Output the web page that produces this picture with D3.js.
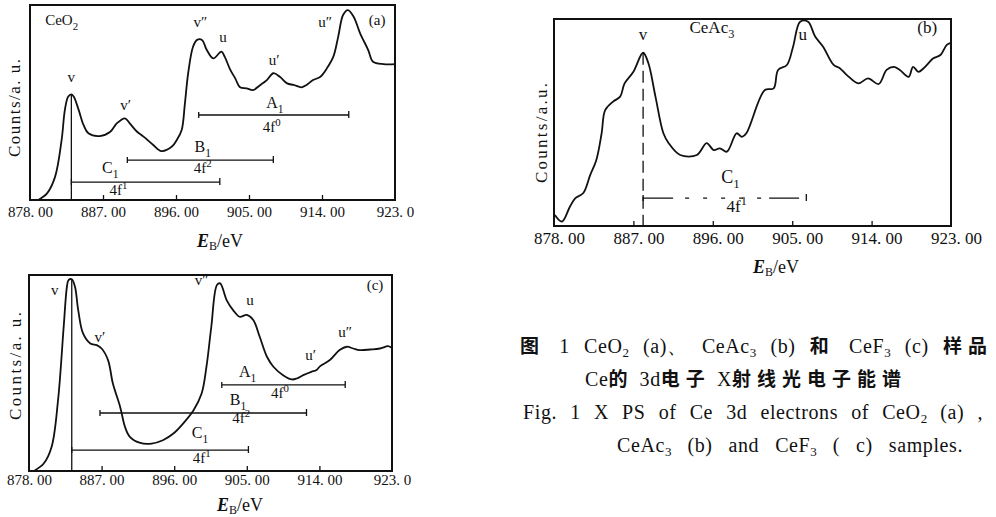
<!DOCTYPE html>
<meta charset="utf-8">
<style>
body { margin: 0; background: #fff; }
svg { display: block; }
text { font-family: "Liberation Serif", "DejaVu Serif", serif; fill: #111; }
.cjk { font-family: "Noto Sans CJK SC", sans-serif; font-weight: bold; }
.curve { fill: none; stroke: #111; stroke-width: 1.8; stroke-linejoin: round; }
.box { fill: none; stroke: #111; stroke-width: 2; }
.bracket { fill: none; stroke: #111; stroke-width: 1.3; }
.axis text { font-family: "Liberation Serif", serif; fill: #111; }
.axis line { stroke: #111; stroke-width: 1.3; }
</style>
<svg width="996" height="517"></svg>
<script src="https://d3js.org/d3.v7.min.js"></script>
<script>

// x axis (binding energy, eV)
var tickValues = [878, 887, 896, 905, 914, 923];
var tickLabelsA = ["878. 00", "887. 00", "896. 00", "905. 00", "914. 00", "923. 0"];
var tickLabelsB = ["878. 00", "887. 00", "896. 00", "905. 00", "914. 00", "923. 00"];
var tickLabelsC = ["878. 00", "887. 00", "896. 00", "905. 00", "914. 00", "923. 0"];

// (a) CeO2 spectrum, counts in arbitrary units (0-100)
var energyA = [879.0, 880.1, 881.1, 881.9, 882.3, 882.7, 883.1, 883.4, 884.0, 884.6, 885.2, 886.6, 887.9, 888.7, 889.7, 890.3, 891.2, 892.0, 893.2, 894.2, 895.5, 896.1, 896.7, 897.1, 897.5, 898.1, 898.6, 899.2, 899.8, 900.6, 901.6, 902.0, 902.7, 903.3, 903.9, 904.7, 905.5, 906.4, 907.2, 908.0, 908.8, 909.7, 910.5, 911.5, 912.1, 912.9, 913.8, 914.6, 915.4, 916.0, 916.6, 917.2, 917.9, 918.7, 919.7, 920.3, 921.6, 923.0];
var countsA = [0, 3.4, 12.0, 30.8, 46.2, 53.0, 54.2, 53.0, 46.2, 38.5, 34.2, 32.8, 35.0, 39.3, 41.9, 39.3, 35.0, 32.5, 28.2, 25.1, 27.4, 30.8, 35.9, 49.6, 65.0, 78.6, 82.1, 82.1, 76.9, 72.6, 76.1, 73.5, 66.7, 62.4, 57.8, 57.3, 56.4, 59.0, 61.5, 65.0, 63.2, 59.8, 59.0, 57.8, 59.0, 61.5, 63.2, 67.5, 73.5, 83.8, 94.9, 97.4, 94.0, 85.5, 76.9, 70.9, 69.7, 69.7];

// (b) CeAc3 spectrum
var energyB = [878.1, 878.9, 879.8, 880.4, 881.3, 882.1, 882.8, 883.4, 883.8, 884.7, 885.5, 886.0, 887.0, 888.1, 888.7, 889.5, 890.4, 891.0, 892.3, 894.2, 895.3, 896.1, 896.8, 897.6, 898.7, 899.3, 899.8, 901.9, 902.9, 903.4, 904.4, 905.1, 905.9, 906.8, 907.6, 908.5, 909.7, 910.4, 911.2, 912.5, 913.6, 914.8, 915.7, 916.5, 917.2, 918.2, 918.7, 919.3, 919.9, 921.0, 921.8, 922.5, 922.9];
var countsB = [5.3, 2.1, 9.3, 13.4, 15.8, 24.6, 31.9, 44.8, 56.0, 60.1, 62.5, 68.9, 74.5, 83.7, 78.6, 62.5, 44.8, 40.0, 34.3, 34.3, 40.0, 36.7, 37.5, 35.9, 44.8, 43.1, 44.8, 65.7, 66.5, 75.4, 77.8, 86.6, 98.7, 98.7, 91.5, 86.6, 77.8, 76.2, 72.9, 68.9, 71.3, 68.6, 75.4, 76.9, 75.4, 72.1, 76.9, 74.5, 76.2, 81.0, 82.6, 87.4, 88.3];

// (c) CeF3 spectrum
var energyC = [878.7, 879.8, 880.8, 881.6, 882.3, 882.7, 882.9, 883.3, 883.7, 884.1, 884.7, 885.6, 886.4, 887.0, 887.8, 888.4, 889.3, 889.9, 890.5, 891.8, 893.2, 894.6, 895.9, 897.1, 898.4, 899.4, 900.0, 900.6, 901.3, 901.7, 902.5, 903.3, 904.1, 905.0, 905.8, 906.6, 907.5, 908.3, 909.5, 910.6, 911.2, 912.0, 913.0, 913.6, 914.1, 915.3, 916.5, 917.4, 918.2, 919.0, 920.3, 921.5, 922.5, 922.9];
var countsC = [0.3, 3.7, 12.3, 36.1, 73.6, 94.0, 97.4, 97.8, 94.0, 82.1, 70.2, 65.1, 64.2, 62.5, 56.6, 44.6, 32.7, 22.5, 17.4, 14.3, 14.0, 15.7, 19.1, 24.2, 31.0, 39.5, 53.2, 73.6, 94.9, 95.7, 87.2, 82.1, 78.7, 79.6, 77.0, 68.5, 58.3, 53.2, 48.9, 46.7, 47.2, 48.9, 50.6, 51.4, 53.5, 56.6, 61.7, 63.4, 62.5, 61.7, 62.0, 62.5, 63.7, 63.0];

// peak labels (name, energy, counts where the label sits)
var peakNamesA = ["v", "v′", "v″", "u", "u′", "u″", "CeO_2", "(a)"];
var peakEnergyA = [883.1, 889.8, 899.0, 901.8, 908.1, 914.4, 881.9, 920.8];
var peakCountA = [60.5, 46.2, 88.7, 81.0, 69.2, 88.7, 89.7, 89.7];
var peakNamesB = ["v", "u", "CeAc_3", "(b)"];
var peakEnergyB = [888.1, 906.2, 895.9, 920.3];
var peakCountB = [89.9, 89.9, 93.2, 93.2];
var peakNamesC = ["v", "v′", "v″", "u", "u′", "u″", "(c)"];
var peakEnergyC = [881.2, 886.8, 899.4, 905.4, 912.9, 917.2, 920.9];
var peakCountC = [89.8, 65.8, 94.9, 84.7, 56.6, 68.4, 92.3];

// v marker line (energy, top counts)
var vLineA = [883.1, 54.2], vLineB = [888.1, 83.7], vLineC = [883.3, 97.8];

// multiplet brackets: name, 4f configuration, start/end energy, level
var bracketNames = ["A_1", "B_1", "C_1"];
var bracketConfigs = ["4f^0", "4f^2", "4f^1"];
var bracketStartA = [898.8, 890.0, 883.1], bracketEndA = [917.3, 908.0, 901.4], bracketLevelA = [43.6, 20.5, 9.2];
var nameEnergyA = [908.2, 899.3, 887.9], nameCountA = [47.2, 24.6, 13.8];
var cfgEnergyA = [907.8, 899.3, 888.9], cfgCountA = [34.9, 13.8, 2.6];
var bracketStartB = [888.1], bracketEndB = [906.6], bracketLevelB = [13.5];
var nameEnergyB = [898.0], nameCountB = [20.8], cfgEnergyB = [898.7], cfgCountB = [6.8];
var bracketStartC = [901.9, 886.8, 883.3], bracketEndC = [917.2, 912.4, 905.2], bracketLevelC = [43.9, 29.6, 10.7];
var nameEnergyC = [905.1, 903.9, 899.2], nameCountC = [48.0, 33.7, 16.8];
var cfgEnergyC = [909.1, 904.3, 899.4], cfgCountC = [37.2, 24.5, 4.1];

// caption lines
var captionZh1 = [["cjk", "图"], ["lat", " 1 CeO"], ["sub", "2"], ["lat", " (a)、 CeAc"], ["sub", "3"], ["lat", " (b) "], ["cjk", "和"], ["lat", " CeF"], ["sub", "3"], ["lat", " (c) "], ["cjk", "样品"]];
var captionZh2 = [["lat", "Ce"], ["cjk", "的"], ["lat", " 3d"], ["cjk", "电子"], ["lat", " X"], ["cjk", "射线光电子能谱"]];
var captionEn1 = [["lat", "Fig. 1 X PS of Ce 3d electrons of CeO"], ["sub", "2"], ["lat", " (a) ,"]];
var captionEn2 = [["lat", "CeAc"], ["sub", "3"], ["lat", " (b) and CeF"], ["sub", "3"], ["lat", " ( c) samples."]];

var svg = d3.select("svg");

// text with _x subscripts and ^x superscripts
function richText(t, str, size) {
  var parts = str.split(/([_^][0-9A-Za-z])/);
  var shift = 0;
  parts.forEach(function(p) {
    if (!p) return;
    var s = t.append("tspan");
    if (p[0] == "_" || p[0] == "^") {
      var d = p[0] == "_" ? size * 0.3 : -size * 0.4;
      s.attr("dy", d - shift).attr("font-size", size * 0.72).text(p.slice(1));
      shift = d;
    } else {
      s.attr("dy", -shift).text(p);
      shift = 0;
    }
  });
}

function drawPanel(p) {
  var x = d3.scaleLinear().domain([878, 923]).range([p.left, p.right]);
  var y = d3.scaleLinear().domain([0, 100]).range([p.bottom, p.top]);
  var g = svg.append("g");
  var fs = p.fs;

  var axis = g.append("g").attr("class", "axis")
    .attr("transform", "translate(0," + p.bottom + ")")
    .call(d3.axisBottom(x).tickValues(tickValues)
      .tickFormat(function(d, i) { return p.tickLabels[i]; })
      .tickSizeInner(-5).tickSizeOuter(0).tickPadding(p.pad));
  axis.select(".domain").remove();
  axis.selectAll(".tick text").attr("font-size", p.tickFs).attr("dx", p.tickDx);
  axis.selectAll(".tick line").filter(function(d) { return d == 878 || d == 923; }).remove();

  g.append("rect").attr("class", "box")
    .attr("x", p.left).attr("y", p.top)
    .attr("width", p.right - p.left).attr("height", p.bottom - p.top);

  var pts = p.energy.map(function(e, i) { return [e, p.counts[i]]; });
  g.append("path").attr("class", "curve")
    .attr("d", d3.line().x(function(d) { return x(d[0]); }).y(function(d) { return y(d[1]); })
      .curve(d3.curveCatmullRom.alpha(0.5))(pts));

  g.append("line").attr("class", "bracket")
    .attr("x1", x(p.vLine[0])).attr("x2", x(p.vLine[0]))
    .attr("y1", y(p.vLine[1])).attr("y2", y(0))
    .attr("stroke-dasharray", p.dashed ? "12,6" : null);

  p.bStart.forEach(function(s, i) {
    var x0 = x(s), x1 = x(p.bEnd[i]), yy = y(p.bLevel[i]);
    g.append("path").attr("class", "bracket")
      .attr("d", "M" + x0 + "," + (yy - 3) + "V" + (yy + 3) + "M" + x0 + "," + yy + "H" + x1 + "M" + x1 + "," + (yy - 4) + "V" + (yy + 3))
      .attr("stroke-dasharray", p.dashed ? "30,12,4,14,4,14,4,14,4,14,4,8,30" : null);
    var n = g.append("text").attr("x", x(p.nameE[i])).attr("y", y(p.nameC[i])).attr("dy", "0.35em")
      .attr("text-anchor", "middle").attr("font-size", fs + 1);
    richText(n, bracketNames[i + p.bOffset], fs + 1);
    var c = g.append("text").attr("x", x(p.cfgE[i])).attr("y", y(p.cfgC[i])).attr("dy", "0.35em")
      .attr("text-anchor", "middle").attr("font-size", fs);
    richText(c, bracketConfigs[i + p.bOffset], fs);
  });

  p.names.forEach(function(nm, i) {
    var t = g.append("text").attr("x", x(p.nameX[i])).attr("y", y(p.nameY[i])).attr("dy", "0.35em")
      .attr("text-anchor", "middle").attr("font-size", fs);
    richText(t, nm, fs);
  });

  g.append("text").attr("transform", "translate(" + p.yLabel[0] + "," + p.yLabel[1] + ") rotate(-90)")
    .attr("text-anchor", "middle").attr("dy", "0.35em").attr("font-size", 17)
    .attr("textLength", p.yLabel[2]).attr("lengthAdjust", "spacing")
    .text(p.yText);

  var xl = g.append("text").attr("x", p.xLabel[0]).attr("y", p.xLabel[1])
    .attr("text-anchor", "middle").attr("font-size", 18);
  xl.append("tspan").attr("font-style", "italic").attr("font-weight", "bold").text("E");
  xl.append("tspan").attr("font-size", 12).attr("dy", 3).text("B");
  xl.append("tspan").attr("dy", -3).text("/eV");
}

drawPanel({ left: 30, right: 395, top: 5, bottom: 200, pad: 6, tickFs: 15, tickDx: 0, fs: 15,
  tickLabels: tickLabelsA, energy: energyA, counts: countsA, vLine: vLineA, dashed: false,
  bStart: bracketStartA, bEnd: bracketEndA, bLevel: bracketLevelA, bOffset: 0,
  nameE: nameEnergyA, nameC: nameCountA, cfgE: cfgEnergyA, cfgC: cfgCountA,
  names: peakNamesA, nameX: peakEnergyA, nameY: peakCountA,
  yText: "Counts/a. u.", yLabel: [14, 108, 98], xLabel: [220, 247] });

drawPanel({ left: 554, right: 951, top: 19, bottom: 226, pad: 6, tickFs: 17, tickDx: 5, fs: 17,
  tickLabels: tickLabelsB, energy: energyB, counts: countsB, vLine: vLineB, dashed: true,
  bStart: bracketStartB, bEnd: bracketEndB, bLevel: bracketLevelB, bOffset: 2,
  nameE: nameEnergyB, nameC: nameCountB, cfgE: cfgEnergyB, cfgC: cfgCountB,
  names: peakNamesB, nameX: peakEnergyB, nameY: peakCountB,
  yText: "Counts/a.u.", yLabel: [541, 133, 100], xLabel: [776, 273] });

drawPanel({ left: 29, right: 392, top: 275, bottom: 471, pad: 3, tickFs: 15, tickDx: 0, fs: 15,
  tickLabels: tickLabelsC, energy: energyC, counts: countsC, vLine: vLineC, dashed: false,
  bStart: bracketStartC, bEnd: bracketEndC, bLevel: bracketLevelC, bOffset: 0,
  nameE: nameEnergyC, nameC: nameCountC, cfgE: cfgEnergyC, cfgC: cfgCountC,
  names: peakNamesC, nameX: peakEnergyC, nameY: peakCountC,
  yText: "Counts/a. u.", yLabel: [15, 366, 108], xLabel: [240, 511] });

// caption: letter-spaced CJK, word gaps stretched so each line spans its width
function captionLine(parts, x, y, len) {
  var t = svg.append("text").attr("x", x).attr("y", y).attr("font-size", 20);
  var shift = 0;
  parts.forEach(function(p) {
    var s = t.append("tspan").text(p[1]);
    if (p[0] == "sub") { s.attr("font-size", 13).attr("dy", 4 - shift); shift = 4; }
    else {
      s.attr("dy", -shift); shift = 0;
      if (p[0] == "cjk") s.attr("class", "cjk").attr("font-size", 19).attr("letter-spacing", 6);
      else s.attr("letter-spacing", 0.6);
    }
  });
  var natural = t.node().getComputedTextLength();
  var gaps = parts.map(function(p) { return p[1]; }).join("").split(" ").length - 1;
  if (natural > len) t.attr("textLength", len).attr("lengthAdjust", "spacingAndGlyphs");
  else if (gaps > 0) t.attr("word-spacing", (len - natural) / gaps);
}
captionLine(captionZh1, 520, 353, 473);
captionLine(captionZh2, 585, 386, 322);
captionLine(captionEn1, 523, 419, 460);
captionLine(captionEn2, 617, 452, 346);

</script>
